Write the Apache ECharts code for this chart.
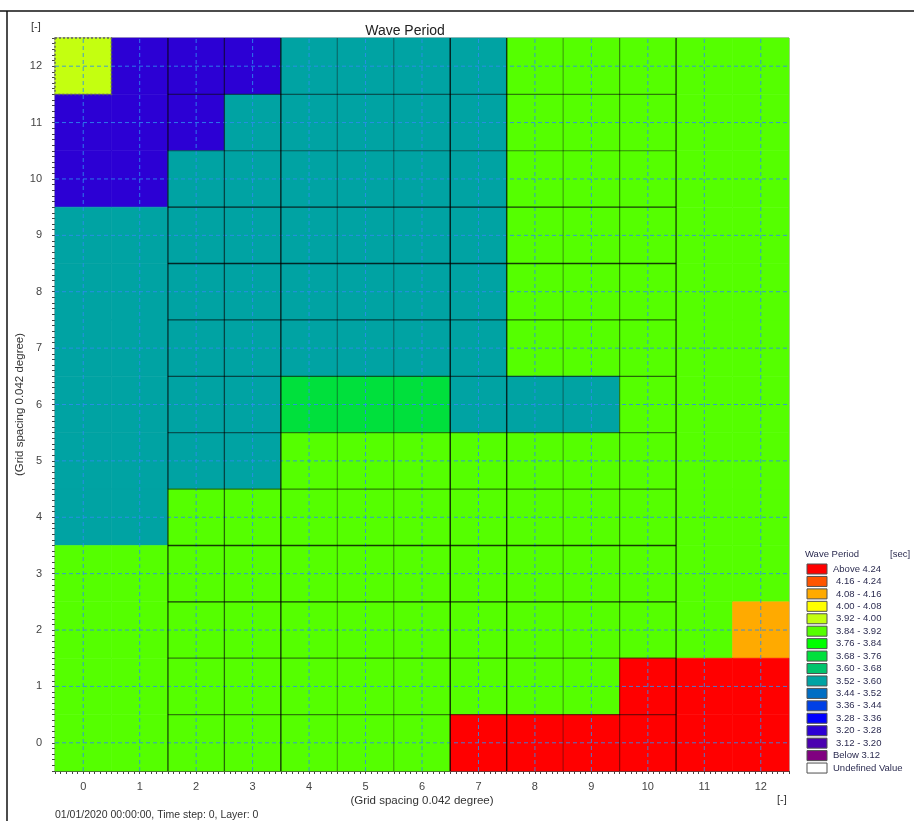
<!DOCTYPE html>
<html>
<head>
<meta charset="utf-8">
<title>Wave Period</title>
<script src="https://cdn.jsdelivr.net/npm/echarts@6/dist/echarts.min.js"></script>
<style>
  html, body { margin: 0; padding: 0; background: #ffffff; }
  #chart { width: 914px; height: 821px; }
</style>
</head>
<body>
<div id="chart"></div>
<script>
// Wave period per grid cell [sec]; rows listed from y = 12 (top) down to y = 0
const waveRows = [
  [3.96, 3.24, 3.24, 3.24, 3.56, 3.56, 3.56, 3.56, 3.88, 3.88, 3.88, 3.88, 3.88],
  [3.24, 3.24, 3.24, 3.56, 3.56, 3.56, 3.56, 3.56, 3.88, 3.88, 3.88, 3.88, 3.88],
  [3.24, 3.24, 3.56, 3.56, 3.56, 3.56, 3.56, 3.56, 3.88, 3.88, 3.88, 3.88, 3.88],
  [3.56, 3.56, 3.56, 3.56, 3.56, 3.56, 3.56, 3.56, 3.88, 3.88, 3.88, 3.88, 3.88],
  [3.56, 3.56, 3.56, 3.56, 3.56, 3.56, 3.56, 3.56, 3.88, 3.88, 3.88, 3.88, 3.88],
  [3.56, 3.56, 3.56, 3.56, 3.56, 3.56, 3.56, 3.56, 3.88, 3.88, 3.88, 3.88, 3.88],
  [3.56, 3.56, 3.56, 3.56, 3.72, 3.72, 3.72, 3.56, 3.56, 3.56, 3.88, 3.88, 3.88],
  [3.56, 3.56, 3.56, 3.56, 3.88, 3.88, 3.88, 3.88, 3.88, 3.88, 3.88, 3.88, 3.88],
  [3.56, 3.56, 3.88, 3.88, 3.88, 3.88, 3.88, 3.88, 3.88, 3.88, 3.88, 3.88, 3.88],
  [3.88, 3.88, 3.88, 3.88, 3.88, 3.88, 3.88, 3.88, 3.88, 3.88, 3.88, 3.88, 3.88],
  [3.88, 3.88, 3.88, 3.88, 3.88, 3.88, 3.88, 3.88, 3.88, 3.88, 3.88, 3.88, 4.12],
  [3.88, 3.88, 3.88, 3.88, 3.88, 3.88, 3.88, 3.88, 3.88, 3.88, 4.30, 4.30, 4.30],
  [3.88, 3.88, 3.88, 3.88, 3.88, 3.88, 3.88, 4.30, 4.30, 4.30, 4.30, 4.30, 4.30]
];

// Grid index ticks on both axes
const gridTicks = [0, 1, 2, 3, 4, 5, 6, 7, 8, 9, 10, 11, 12];

// Cell shown with a dotted outline
const markedCell = [0, 12];

// Classification of the colour scale (upper bounds, descending)
const classEdges = [4.24, 4.16, 4.08, 4.00, 3.92, 3.84, 3.76, 3.68, 3.60, 3.52, 3.44, 3.36, 3.28, 3.20, 3.12];
const legendLabels = [
  'Above 4.24', '4.16 - 4.24', '4.08 - 4.16', '4.00 - 4.08', '3.92 - 4.00',
  '3.84 - 3.92', '3.76 - 3.84', '3.68 - 3.76', '3.60 - 3.68', '3.52 - 3.60',
  '3.44 - 3.52', '3.36 - 3.44', '3.28 - 3.36', '3.20 - 3.28', '3.12 - 3.20',
  'Below 3.12', 'Undefined Value'
];
const legendColors = [
  '#ff0000', '#ff5500', '#ffaa00', '#ffff00', '#c4ff10',
  '#55ff00', '#00ff00', '#00e03c', '#00c46c', '#00a3a3',
  '#006ec4', '#0040e6', '#0000ff', '#2c00d4', '#4a00b0',
  '#800080', '#ffffff'
];

// Mesh outline lines: [position, weight]
const meshVertical = [[1.5, 0.8], [2.5, 0.7], [3.5, 0.9], [4.5, 0.45], [5.5, 0.45],
                      [6.5, 0.95], [7.5, 0.9], [8.5, 0.45], [9.5, 0.55], [10.5, 0.85]];
const meshHorizontal = [[0.5, 0.6], [1.5, 0.6], [2.5, 0.9], [3.5, 0.9], [4.5, 0.6], [5.5, 0.6],
                        [6.5, 0.7], [7.5, 0.7], [8.5, 0.9], [9.5, 0.9], [10.5, 0.55], [11.5, 0.6]];
const meshSpanX = [1.5, 10.5];
const meshSpanY = [-0.5, 12.5];

function classColor(v) {
  if (v == null || isNaN(v)) return legendColors[legendColors.length - 1];
  for (let i = 0; i < classEdges.length; i++) {
    if (v > classEdges[i]) return legendColors[i];
  }
  return legendColors[classEdges.length];
}

const nRows = waveRows.length;
const cellData = [];
waveRows.forEach((row, r) => {
  row.forEach((v, c) => {
    cellData.push([c, nRows - 1 - r, v]);
  });
});

const meshData = meshVertical.map(m => [m[0], m[1], 0])
  .concat(meshHorizontal.map(m => [m[0], m[1], 1]));

const font = '"Liberation Sans", Arial, sans-serif';
const chart = echarts.init(document.getElementById('chart'), null, { renderer: 'canvas' });

// Legend block built from the class labels and colours
const legendChildren = [
  { type: 'text', x: 0, y: 4, style: { text: 'Wave Period', font: '9.5px ' + font, fill: '#2b2b50', verticalAlign: 'middle' } },
  { type: 'text', x: 85, y: 4, style: { text: '[sec]', font: '9.5px ' + font, fill: '#2b2b50', verticalAlign: 'middle' } }
];
legendLabels.forEach((lab, i) => {
  const y = 14 + i * 12.44;
  legendChildren.push({
    type: 'rect', shape: { x: 2, y: y, width: 20, height: 10 },
    style: { fill: legendColors[i], stroke: '#505050', lineWidth: 1 }
  });
  const isRange = lab.indexOf(' - ') > 0;
  legendChildren.push({
    type: 'text', x: isRange ? 31 : 28, y: y + 5,
    style: { text: lab, font: '9.5px ' + font, fill: '#2b2b50', verticalAlign: 'middle' }
  });
});

const intLabel = v => (Math.abs(v - Math.round(v)) < 1e-6 ? String(Math.round(v)) : '');

const option = {
  animation: false,
  backgroundColor: '#ffffff',
  title: {
    text: 'Wave Period', left: 400, top: 19, textAlign: 'center',
    textStyle: { fontFamily: font, fontSize: 14, fontWeight: 'normal', color: '#222' }
  },
  grid: {
    left: 55, top: 38, right: 125, bottom: 50,
    show: true, borderColor: '#808080', borderWidth: 1, backgroundColor: 'transparent'
  },
  xAxis: {
    type: 'value', min: -0.5, max: 12.5, interval: 0.5,
    name: '(Grid spacing 0.042 degree)', nameLocation: 'middle', nameGap: 24,
    nameMoveOverlap: false,
    nameTextStyle: { fontFamily: font, fontSize: 11.5, color: '#333' },
    axisLine: { show: true, onZero: false, lineStyle: { color: '#444', width: 1 } },
    axisTick: { show: true, length: 3, lineStyle: { color: '#444' } },
    minorTick: { show: true, splitNumber: 5, length: 3, lineStyle: { color: '#444' } },
    axisLabel: { formatter: intLabel, fontFamily: font, fontSize: 11, color: '#444', margin: 10 },
    splitLine: { show: false }
  },
  yAxis: {
    type: 'value', min: -0.5, max: 12.5, interval: 0.5,
    name: '(Grid spacing 0.042 degree)', nameLocation: 'middle', nameGap: 29, nameRotate: 90,
    nameMoveOverlap: false,
    nameTextStyle: { fontFamily: font, fontSize: 11.5, color: '#333' },
    axisLine: { show: true, onZero: false, lineStyle: { color: '#444', width: 1 } },
    axisTick: { show: true, length: 3, lineStyle: { color: '#444' } },
    minorTick: { show: true, splitNumber: 5, length: 3, lineStyle: { color: '#444' } },
    axisLabel: { formatter: intLabel, fontFamily: font, fontSize: 11, color: '#444', margin: 13 },
    splitLine: { show: false }
  },
  graphic: [
    { type: 'line', shape: { x1: 0, y1: 11, x2: 914, y2: 11 }, style: { stroke: '#111', lineWidth: 1.5 } },
    { type: 'line', shape: { x1: 7, y1: 11, x2: 7, y2: 821 }, style: { stroke: '#111', lineWidth: 1.5 } },
    { type: 'text', left: 31, top: 21, style: { text: '[-]', font: '11px ' + font, fill: '#333' } },
    { type: 'text', left: 777, top: 794, style: { text: '[-]', font: '11px ' + font, fill: '#333' } },
    { type: 'text', left: 55, top: 810, style: { text: '01/01/2020 00:00:00, Time step: 0, Layer: 0', font: '10.5px ' + font, fill: '#333' } },
    { type: 'group', left: 805, top: 549, children: legendChildren }
  ],
  series: [
    {
      name: 'Wave Period',
      type: 'custom',
      coordinateSystem: 'cartesian2d',
      z: 1,
      data: cellData,
      encode: { x: 0, y: 1 },
      renderItem: function (params, api) {
        const x = api.value(0), y = api.value(1), v = api.value(2);
        const p0 = api.coord([x - 0.5, y + 0.5]);
        const p1 = api.coord([x + 0.5, y - 0.5]);
        const col = classColor(v);
        const marked = x === markedCell[0] && y === markedCell[1];
        const children = [{
          type: 'rect',
          shape: { x: p0[0], y: p0[1], width: p1[0] - p0[0], height: p1[1] - p0[1] },
          style: { fill: col, stroke: col, lineWidth: 0.6 }
        }];
        if (marked) {
          children.push({
            type: 'rect', z2: 20,
            shape: { x: p0[0], y: p0[1], width: p1[0] - p0[0], height: p1[1] - p0[1] },
            style: { fill: 'none', stroke: '#606060', lineWidth: 1.5, lineDash: [2, 2] }
          });
        }
        return { type: 'group', children: children };
      }
    },
    {
      name: 'grid lines',
      type: 'custom',
      coordinateSystem: 'cartesian2d',
      z: 3,
      silent: true,
      data: gridTicks.map(t => [t, t]),
      encode: { x: 0, y: 1 },
      renderItem: function (params, api) {
        const t = api.value(0);
        const a = api.coord([t, -0.5]), b = api.coord([t, 12.5]);
        const c = api.coord([-0.5, t]), d = api.coord([12.5, t]);
        const ls = { stroke: '#2e8cf0', lineWidth: 1, lineDash: [4, 3], opacity: 0.85 };
        return {
          type: 'group',
          children: [
            { type: 'line', shape: { x1: a[0], y1: a[1], x2: b[0], y2: b[1] }, style: ls },
            { type: 'line', shape: { x1: c[0], y1: c[1], x2: d[0], y2: d[1] }, style: ls }
          ]
        };
      }
    },
    {
      name: 'mesh',
      type: 'custom',
      coordinateSystem: 'cartesian2d',
      z: 4,
      silent: true,
      data: meshData,
      renderItem: function (params, api) {
        const pos = api.value(0), w = api.value(1), horiz = api.value(2) === 1;
        const a = horiz ? api.coord([meshSpanX[0], pos]) : api.coord([pos, meshSpanY[0]]);
        const b = horiz ? api.coord([meshSpanX[1], pos]) : api.coord([pos, meshSpanY[1]]);
        return {
          type: 'line',
          shape: { x1: a[0], y1: a[1], x2: b[0], y2: b[1] },
          style: { stroke: 'rgba(0,0,0,' + (w * 0.85).toFixed(2) + ')', lineWidth: 0.8 + w * 0.7 }
        };
      }
    }
  ]
};

chart.setOption(option);
</script>
</body>
</html>
